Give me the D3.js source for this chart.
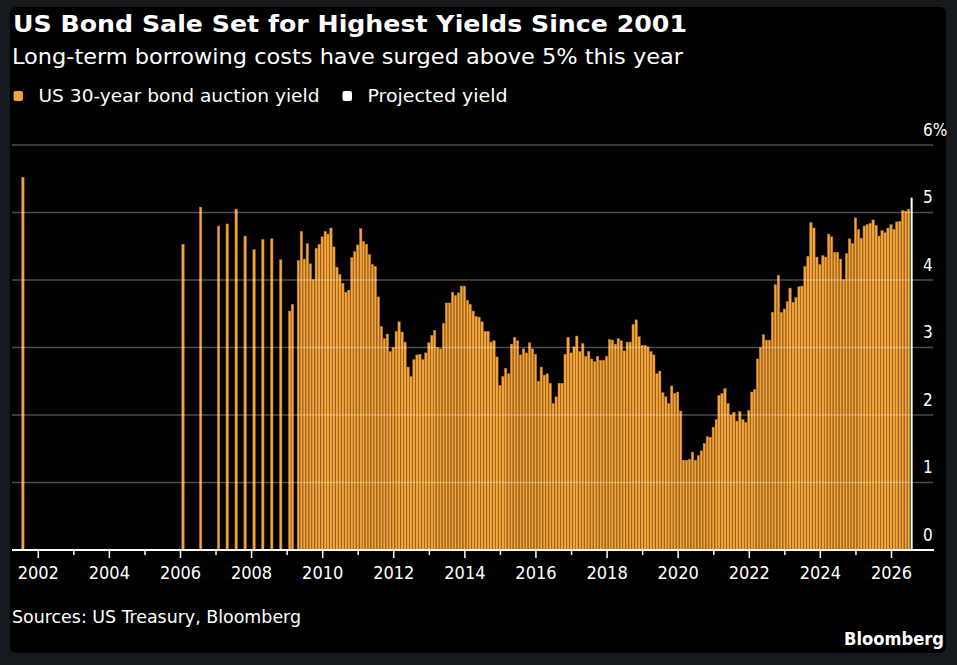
<!DOCTYPE html>
<html>
<head>
<meta charset="utf-8">
<script src="https://cdn.jsdelivr.net/npm/d3@7"></script>
<style>
  html, body { margin: 0; padding: 0; background: #16191e; }
  text { font-family: "DejaVu Sans Condensed", "DejaVu Sans", sans-serif; font-stretch: condensed; fill: #fff; }
</style>
</head>
<body>
<div id="chart"></div>
<script>
// sparse auctions before monthly issuance resumed
const earlyMonths = ['2001-08', '2006-02', '2006-08', '2007-02', '2007-05', '2007-08', '2007-11',
                     '2008-02', '2008-05', '2008-08', '2008-11', '2009-02', '2009-03'];
const earlyYields = [5.52, 4.53, 5.08, 4.80, 4.83, 5.05, 4.65, 4.45, 4.60, 4.61, 4.30, 3.54, 3.64];

// monthly auctions from May 2009
const monthlyStart = '2009-05';
const monthlyYields = [
  4.29, 4.72, 4.31, 4.54, 4.24, 4.01, 4.47, 4.53,                         // 2009 May-Dec
  4.64, 4.72, 4.68, 4.77, 4.49, 4.19, 4.08, 3.95, 3.82, 3.85, 4.33, 4.42, // 2010
  4.52, 4.76, 4.57, 4.53, 4.38, 4.23, 4.20, 3.75, 3.31, 3.13, 3.20, 2.94, // 2011
  3.00, 3.24, 3.38, 3.23, 3.08, 2.71, 2.57, 2.82, 2.89, 2.90, 2.82, 2.92, // 2012
  3.07, 3.18, 3.25, 3.00, 2.98, 3.36, 3.66, 3.66, 3.82, 3.77, 3.81, 3.91, // 2013
  3.91, 3.70, 3.64, 3.54, 3.46, 3.45, 3.38, 3.24, 3.24, 3.08, 3.10, 2.86, // 2014
  2.44, 2.57, 2.69, 2.61, 3.05, 3.15, 3.10, 2.89, 2.98, 2.92, 3.07, 2.98, // 2015
  2.90, 2.50, 2.71, 2.59, 2.61, 2.47, 2.17, 2.27, 2.47, 2.47, 2.90, 3.15, // 2016
  2.92, 3.01, 3.17, 2.94, 3.06, 2.87, 2.94, 2.83, 2.79, 2.87, 2.81, 2.81, // 2017
  2.87, 3.12, 3.11, 3.05, 3.13, 3.10, 2.95, 3.08, 3.08, 3.34, 3.41, 3.16, // 2018
  3.03, 3.03, 3.01, 2.94, 2.89, 2.61, 2.65, 2.33, 2.27, 2.17, 2.43, 2.32, // 2019
  2.34, 2.06, 1.33, 1.33, 1.34, 1.45, 1.33, 1.40, 1.47, 1.58, 1.68, 1.67, // 2020
  1.82, 1.93, 2.29, 2.32, 2.39, 2.17, 2.00, 2.04, 1.91, 2.05, 1.93, 1.89, // 2021
  2.07, 2.34, 2.38, 2.83, 3.00, 3.19, 3.11, 3.11, 3.52, 3.93, 4.07, 3.52, // 2022
  3.57, 3.68, 3.88, 3.67, 3.74, 3.90, 3.91, 4.20, 4.35, 4.85, 4.77, 4.34, // 2023
  4.23, 4.36, 4.34, 4.68, 4.64, 4.41, 4.41, 4.31, 4.01, 4.39, 4.61, 4.54, // 2024
  4.92, 4.75, 4.62, 4.80, 4.82, 4.84, 4.89, 4.81, 4.65, 4.73, 4.70, 4.77, // 2025
  4.82, 4.75, 4.86, 4.87, 5.03, 5.02, 5.05                                // 2026 Jan-Jul
];

const projectedMonths = ['2026-08'];
const projectedYields = [5.22];

const yearTicks = d3.range(2002, 2027);
const yearLabels = ['2002', '2004', '2006', '2008', '2010', '2012', '2014',
                    '2016', '2018', '2020', '2022', '2024', '2026'];
const yTicks = [0, 1, 2, 3, 4, 5, 6];

const width = 957;
const height = 665;
const parseMonth = d3.timeParse('%Y-%m');

const auctions = earlyMonths.map((m, i) => ({ date: parseMonth(m), value: earlyYields[i] }))
  .concat(monthlyYields.map((v, i) => ({ date: d3.timeMonth.offset(parseMonth(monthlyStart), i), value: v })));
const projected = projectedMonths.map((m, i) => ({ date: parseMonth(m), value: projectedYields[i] }));

const svg = d3.select('#chart')
  .append('svg')
  .attr('width', width)
  .attr('height', height);

svg.append('rect')
  .attr('x', 10).attr('y', 7)
  .attr('width', 936).attr('height', 646)
  .attr('rx', 6)
  .attr('fill', '#000');

const x = d3.scaleTime()
  .domain([new Date(2002, 0, 1), new Date(2026, 0, 1)])
  .range([37.8, 891]);
const y = d3.scaleLinear()
  .domain([0, 6])
  .range([550, 145]);

// header (the original type is wider than DejaVu, so stretch to its measured widths)
svg.append('text')
  .attr('x', 13).attr('y', 32)
  .attr('textLength', 674).attr('lengthAdjust', 'spacingAndGlyphs')
  .style('font-family', '"DejaVu Sans", sans-serif')
  .style('font-stretch', 'normal')
  .style('font-weight', 'bold')
  .style('font-size', '23px')
  .text('US Bond Sale Set for Highest Yields Since 2001');
svg.append('text')
  .attr('x', 12).attr('y', 64)
  .attr('textLength', 671).attr('lengthAdjust', 'spacingAndGlyphs')
  .style('font-size', '21px')
  .text('Long-term borrowing costs have surged above 5% this year');

const legend = svg.append('g');
const legendItems = [
  { label: 'US 30-year bond auction yield', color: '#f2a53e', x: 13.5, w: 281 },
  { label: 'Projected yield', color: '#fff', x: 342.5, w: 140 }
];
legend.selectAll('rect')
  .data(legendItems)
  .join('rect')
  .attr('x', d => d.x).attr('y', 91)
  .attr('width', 9.5).attr('height', 10)
  .attr('rx', 2)
  .attr('fill', d => d.color);
legend.selectAll('text')
  .data(legendItems)
  .join('text')
  .attr('x', d => d.x + 25).attr('y', 102)
  .attr('textLength', d => d.w).attr('lengthAdjust', 'spacingAndGlyphs')
  .style('font-size', '17px')
  .text(d => d.label);

// bars
svg.append('g')
  .selectAll('rect')
  .data(auctions)
  .join('rect')
  .attr('x', d => x(d.date) - 1.2)
  .attr('y', d => y(d.value))
  .attr('width', 2.4)
  .attr('height', d => y(0) - y(d.value))
  .attr('fill', '#f3a73e')
  .attr('stroke', '#b9731f')
  .attr('stroke-width', 0.5);

svg.append('g')
  .selectAll('rect')
  .data(projected)
  .join('rect')
  .attr('x', d => x(d.date) - 1)
  .attr('y', d => y(d.value))
  .attr('width', 2)
  .attr('height', d => y(0) - y(d.value))
  .attr('fill', '#fff');

// grid on top of bars
svg.append('g')
  .selectAll('line')
  .data(yTicks.filter(d => d > 0))
  .join('line')
  .attr('x1', 12).attr('x2', 933)
  .attr('y1', d => y(d)).attr('y2', d => y(d))
  .attr('stroke', '#fff')
  .attr('stroke-opacity', 0.3)
  .attr('stroke-width', 1.3);

// y labels
const yAxis = svg.append('g')
  .attr('transform', 'translate(923,0)')
  .call(d3.axisRight(y).tickValues(yTicks).tickSize(0).tickPadding(0)
    .tickFormat(d => d === 6 ? '6%' : d));
yAxis.select('.domain').remove();
yAxis.selectAll('text')
  .attr('dy', null)
  .attr('y', -10)
  .attr('fill', '#fff')
  .style('font-size', '17px')
  .style('font-family', null);

// x axis: minor ticks on odd years, labelled ticks on even years
const minor = svg.append('g')
  .attr('transform', `translate(0,${y(0)})`)
  .call(d3.axisBottom(x)
    .tickValues(yearTicks.filter(d => d % 2 === 1).map(d => new Date(d, 0, 1)))
    .tickSize(5).tickFormat(''));
minor.select('.domain').remove();
minor.selectAll('line').attr('stroke', '#fff').attr('stroke-width', 1.5);

const major = svg.append('g')
  .attr('transform', `translate(0,${y(0)})`)
  .call(d3.axisBottom(x)
    .tickValues(yearLabels.map(d => new Date(+d, 0, 1)))
    .tickSize(8).tickPadding(8)
    .tickFormat(d3.timeFormat('%Y')));
major.select('.domain').remove();
major.selectAll('line').attr('stroke', '#fff').attr('stroke-width', 1.5);
major.selectAll('text')
  .attr('fill', '#fff')
  .style('font-size', '18px')
  .style('font-family', null);

svg.append('line')
  .attr('x1', 12).attr('x2', 934)
  .attr('y1', y(0)).attr('y2', y(0))
  .attr('stroke', '#fff')
  .attr('stroke-width', 2);

// footer
svg.append('text')
  .attr('x', 12).attr('y', 623)
  .attr('textLength', 289).attr('lengthAdjust', 'spacingAndGlyphs')
  .style('font-size', '17px')
  .text('Sources: US Treasury, Bloomberg');
svg.append('text')
  .attr('x', 944).attr('y', 645)
  .attr('text-anchor', 'end')
  .attr('textLength', 100).attr('lengthAdjust', 'spacingAndGlyphs')
  .style('font-weight', 'bold')
  .style('font-size', '17px')
  .text('Bloomberg');
</script>
</body>
</html>
